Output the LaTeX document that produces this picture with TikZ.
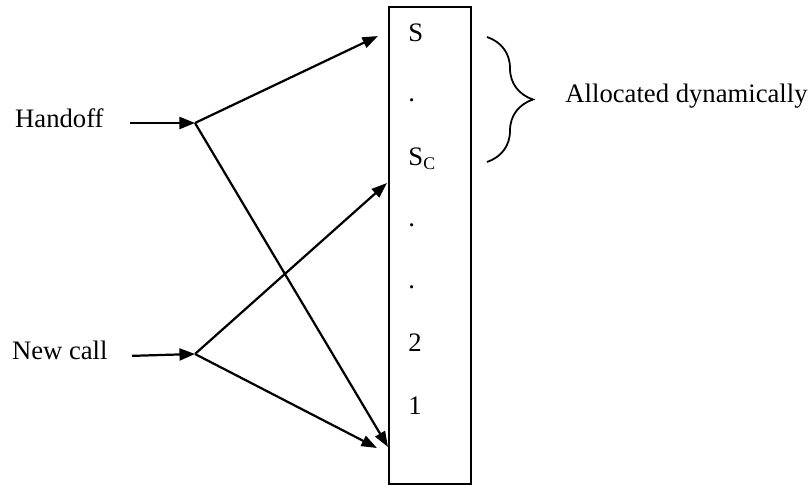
\documentclass[tikz,border=0pt]{standalone}
\usepackage{fontspec}
\setmainfont{Liberation Serif}
\usetikzlibrary{arrows.meta,decorations.pathreplacing}

\begin{document}
\begin{tikzpicture}[x=0.45pt, y=-0.45pt,
    font=\fontsize{12}{14}\selectfont,
    every node/.style={inner sep=0pt},
    feed/.style={line width=1pt, -{Triangle[length=7pt, width=5.4pt]}},
    split/.style={line width=1pt, -{Triangle[length=7pt, width=5pt]}}]

    \useasboundingbox (0,0) rectangle (810,485);

    \newcommand{\slotX}{408}

    % channel pool
    \node[draw, line width=0.8pt, anchor=north west,
          minimum width=36.9pt, minimum height=214.65pt] (pool) at (388,6) {};

    \foreach \lbl/\yb [count=\i] in {S/42, ./102, S\textsubscript{C}/166, ./227, ./289, 2/352, 1/415} {
        \node[anchor=base west] (slot\i) at (\slotX,\yb) {\lbl};
    }

    % incoming traffic
    \node[anchor=base east] (hand) at (104,128) {Handoff};
    \node[anchor=base east] (newc) at (108,360) {New call};

    \coordinate (hb) at (195,123); % handoff branch
    \coordinate (nb) at (195,354); % new call branch
    \coordinate (hS) at (378,36);
    \coordinate (h1) at (388,447);
    \coordinate (nS) at (387,183);
    \coordinate (n1) at (377,448);

    \draw[feed] ([xshift=11.7pt]hand.east |- hb) -- (hb);
    \draw[feed] ([xshift=10.8pt,yshift=-2.25pt]newc.east) -- (nb);

    \draw[split] (hb) -- (hS);
    \draw[split] (hb) -- (h1);
    \draw[split] (nb) -- (nS);
    \draw[split] (nb) -- (n1);

    % guard channels
    \coordinate (bt) at (487,37);
    \coordinate (bb) at (487,162);
    \draw[line width=0.8pt, decorate, decoration={brace, amplitude=20.7pt}] (bt) -- (bb);
    \node[anchor=base west] (alloc) at (565,103) {Allocated dynamically};

\end{tikzpicture}
\end{document}
